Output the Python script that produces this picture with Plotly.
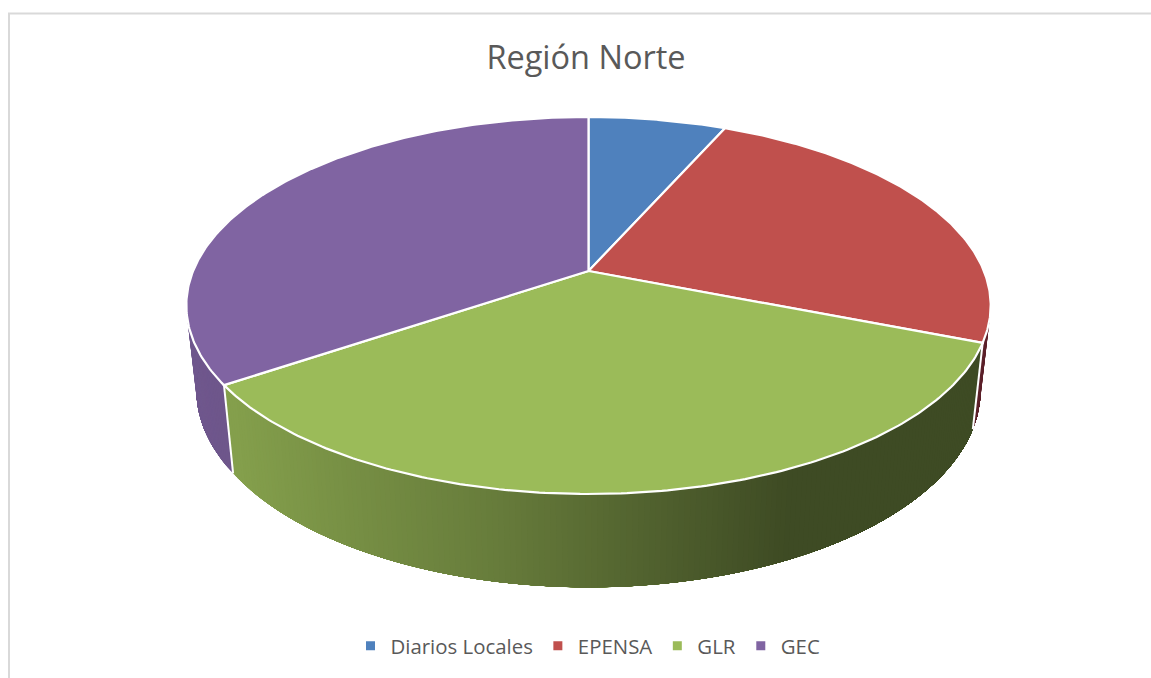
import numpy as np
import plotly.graph_objects as go

# Data
categories = ["Diarios Locales", "EPENSA", "GLR", "GEC"]
shares = [6.6, 24.4, 34.5, 34.5]
colors = ["#4F81BD", "#C0504D", "#9BBB59", "#8064A2"]
title_text = "Región Norte"

# Projection of the tilted disc (page pixels)
CX, CY = 588.5, 271.0
K, A, B = 0.183, 395.4, 182.2
SX, SY, DEPTH = 0.975, 1.046, 83.0
shade_x = [190, 233, 370, 500, 640, 790, 1000]
shade_f = [0.87, 0.85, 0.75, 0.66, 0.53, 0.40, 0.40]


def top(theta):
    """theta in degrees clockwise from 12 o'clock -> screen offsets from the apex"""
    t = np.radians(theta)
    u, v = np.sin(t), -np.cos(t)
    d = 1 - K * v
    return A * u / d, B * v / d


def wall_color(base, x):
    f = float(np.interp(x, shade_x, shade_f))
    r, g, b = [int(base[i:i + 2], 16) for i in (1, 3, 5)]
    return f"rgb({round(r * f)},{round(g * f)},{round(b * f)})"


edges = np.concatenate([[0], np.cumsum(shares)]) / sum(shares) * 360
fig = go.Figure()


def add_poly(xs, ys, fill, line=None, width=0.0):
    fig.add_trace(go.Scatter(
        x=xs, y=ys, mode="lines", fill="toself", fillcolor=fill,
        line=dict(color=line or fill, width=width),
        hoverinfo="skip", showlegend=False))


# Side walls: visible part of each slice, split in strips for the shading.
# Each strip reaches to the far end of the slice so the next one paints over it
# and no seams show between neighbours.
wall_from, wall_to = 70.0, 290.0
for order in (1, 3, 2):
    a0 = max(edges[order], wall_from)
    a1 = min(edges[order + 1], wall_to)
    n = max(2, int((a1 - a0) / 0.7))
    ang = np.linspace(a0, a1, n + 1)
    sweep = ang if order != 2 else ang[::-1]
    for i in range(n):
        rest = np.linspace(sweep[i], sweep[-1], 60)
        px, py = top(rest)
        x0, _ = top(sweep[i])
        x1, _ = top(sweep[i + 1])
        c = wall_color(colors[order], CX + 0.5 * (x0 + x1))
        if order == 1:
            c = "rgb(92,32,42)"
        add_poly(
            np.concatenate([CX + px, (CX + SX * px)[::-1], [CX + px[0]]]),
            np.concatenate([CY + py, (CY + DEPTH + SY * py)[::-1], [CY + py[0]]]),
            c)

# White separators on the walls, where a visible slice boundary meets the side
for e in edges[2:4]:
    x0, y0 = top(e)
    fig.add_trace(go.Scatter(
        x=[CX + x0, CX + SX * x0], y=[CY + y0, CY + DEPTH + SY * y0],
        mode="lines", line=dict(color="white", width=2),
        hoverinfo="skip", showlegend=False))

# Top face
for i, (name, col) in enumerate(zip(categories, colors)):
    ang = np.linspace(edges[i], edges[i + 1], 180)
    px, py = top(ang)
    add_poly(
        np.concatenate([[CX], CX + px, [CX]]),
        np.concatenate([[CY], CY + py, [CY]]),
        col, "white", 2.2)

# Legend entries
for name, col in zip(categories, colors):
    fig.add_trace(go.Scatter(
        x=[None], y=[None], mode="markers", name=name,
        marker=dict(symbol="square", size=9, color=col)))

fig.update_layout(
    width=1151, height=678, margin=dict(l=0, r=0, t=0, b=0),
    paper_bgcolor="white", plot_bgcolor="white",
    font=dict(family="Open Sans", color="#595959"),
    title=dict(text=title_text, x=586 / 1151, xanchor="center",
               y=1 - 58 / 678, yanchor="middle",
               font=dict(size=32.5, color="#595959", family="Open Sans")),
    xaxis=dict(range=[0, 1151], visible=False, fixedrange=True),
    yaxis=dict(range=[678, 0], visible=False, fixedrange=True),
    legend=dict(orientation="h", x=588 / 1151, xanchor="center",
                y=1 - 646 / 678, yanchor="middle",
                font=dict(size=20.4, color="#595959", family="Open Sans"),
                bgcolor="rgba(0,0,0,0)"),
    shapes=[
        dict(type="line", xref="paper", yref="paper", x0=8 / 1151, x1=1, y0=1 - 13.5 / 678, y1=1 - 13.5 / 678,
             line=dict(color="#D9D9D9", width=2)),
        dict(type="line", xref="paper", yref="paper", x0=9 / 1151, x1=9 / 1151, y0=0, y1=1 - 13.5 / 678,
             line=dict(color="#D9D9D9", width=2)),
    ],
)

fig.write_html("out.html", post_script="document.body.style.margin='0';document.body.style.overflow='hidden';",
               config={"displayModeBar": False})
